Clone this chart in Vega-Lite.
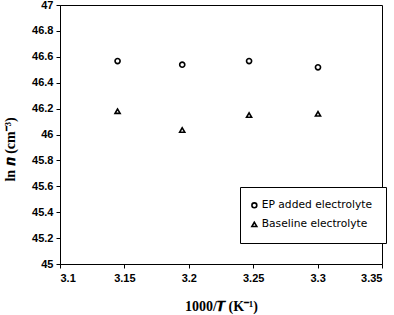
{
  "$schema": "https://vega.github.io/schema/vega-lite/v6.json",
  "width": 322,
  "height": 259,
  "autosize": "none",
  "padding": {"left": 60, "top": 5, "right": 12, "bottom": 51},
  "background": "white",
  "config": {
    "view": {"stroke": "black", "strokeWidth": 1},
    "axis": {
      "grid": false,
      "domainColor": "black",
      "tickColor": "black",
      "tickSize": 4,
      "labelFont": "Liberation Sans",
      "labelFontWeight": "bold",
      "labelFontSize": 11,
      "labelColor": "black",
      "titleFont": "Liberation Serif",
      "titleFontWeight": "bold",
      "titleFontSize": 14,
      "titleColor": "black"
    }
  },
  "data": {
    "values": [
      {"x": 3.1447, "y": 46.567, "series": "EP added electrolyte"},
      {"x": 3.1949, "y": 46.539, "series": "EP added electrolyte"},
      {"x": 3.2468, "y": 46.567, "series": "EP added electrolyte"},
      {"x": 3.3003, "y": 46.519, "series": "EP added electrolyte"},
      {"x": 3.1447, "y": 46.18, "series": "Baseline electrolyte"},
      {"x": 3.1949, "y": 46.035, "series": "Baseline electrolyte"},
      {"x": 3.2468, "y": 46.15, "series": "Baseline electrolyte"},
      {"x": 3.3003, "y": 46.16, "series": "Baseline electrolyte"}
    ]
  },
  "mark": {"type": "point", "filled": false, "strokeWidth": 1.6, "color": "black", "opacity": 1, "size": 26},
  "encoding": {
    "x": {
      "field": "x", "type": "quantitative",
      "scale": {"domain": [3.1, 3.35], "nice": false, "zero": false},
      "axis": {"values": [3.1, 3.15, 3.2, 3.25, 3.3, 3.35], "format": "~g", "title": "1000/𝑻 (K⁻¹)", "titlePadding": 16, "labelPadding": 4}
    },
    "y": {
      "field": "y", "type": "quantitative",
      "scale": {"domain": [45, 47], "nice": false, "zero": false},
      "axis": {"values": [45, 45.2, 45.4, 45.6, 45.8, 46, 46.2, 46.4, 46.6, 46.8, 47], "format": "~g", "title": "ln 𝒏 (cm⁻³)", "titlePadding": 14, "titleY": 144, "labelPadding": 3}
    },
    "shape": {
      "field": "series", "type": "nominal",
      "scale": {"domain": ["EP added electrolyte", "Baseline electrolyte"], "range": ["circle", "triangle-up"]},
      "legend": {
        "title": null,
        "orient": "none",
        "legendX": 180,
        "legendY": 182,
        "strokeColor": "black",
        "fillColor": "white",
        "padding": 13,
        "rowPadding": 7,
        "symbolOffset": -4,
        "labelOffset": 2,
        "labelFont": "DejaVu Sans",
        "labelFontSize": 10.7,
        "labelColor": "black",
        "symbolStrokeColor": "black",
        "symbolFillColor": "white",
        "symbolStrokeWidth": 1.6,
        "symbolSize": 24,
        "symbolOpacity": 1
      }
    }
  }
}
